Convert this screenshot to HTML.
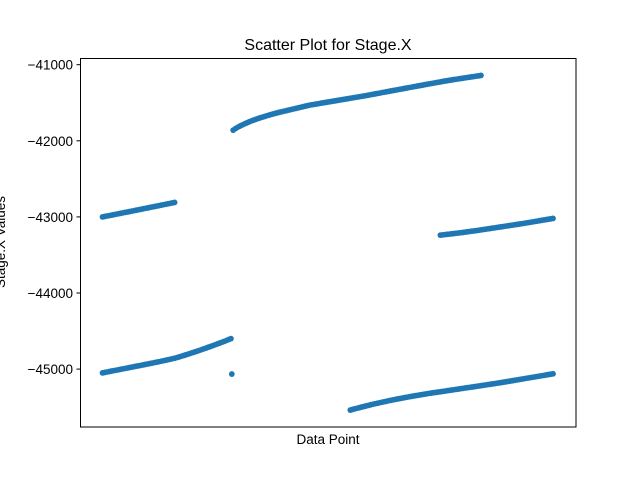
<!DOCTYPE html>
<html><head><meta charset="utf-8"><style>
html,body{margin:0;padding:0;background:#fff;}
svg{display:block;font-family:"Liberation Sans","DejaVu Sans",sans-serif;}
</style></head><body>
<svg id="chart" width="640" height="480" xmlns="http://www.w3.org/2000/svg">
<rect width="640" height="480" fill="#fff"/>
<text x="328" y="50" font-size="16" text-anchor="middle">Scatter Plot for Stage.X</text>
<g id="marks"></g>
<rect x="80.5" y="58.5" width="495.5" height="368.5" fill="none" stroke="#000" stroke-width="1"/>
<g id="yticks"></g>
<text x="328" y="444" font-size="13.5" text-anchor="middle">Data Point</text>
<text transform="translate(5,242) rotate(-90)" font-size="13.5" text-anchor="middle">Stage.X Values</text>
</svg>
<script>
const yTicks = [-41000, -42000, -43000, -44000, -45000];
const yTickLabels = ["\u221241000", "\u221242000", "\u221243000", "\u221244000", "\u221245000"];
const seg1Start = 0;
const seg1Values = [-43000,-42994,-42988,-42983,-42977,-42971,-42965,-42959,-42953,-42947,-42941,-42936,-42930,-42924,-42918,-42912,-42906,-42900,-42894,-42888,-42882,-42876,-42870,-42864,-42858,-42852,-42846,-42840,-42834,-42828,-42822,-42816,-42810];
const seg2Start = 0;
const seg2Values = [-45050,-45044,-45038,-45032,-45026,-45020,-45015,-45009,-45003,-44997,-44992,-44986,-44980,-44974,-44968,-44962,-44957,-44951,-44945,-44939,-44933,-44927,-44921,-44915,-44909,-44903,-44897,-44890,-44884,-44877,-44871,-44864,-44857,-44849,-44840,-44831,-44822,-44812,-44803,-44793,-44784,-44774,-44764,-44754,-44744,-44733,-44723,-44712,-44702,-44691,-44680,-44669,-44658,-44647,-44636,-44624,-44612,-44600];
const seg3Start = 290;
const seg3Values = [-41860,-41840,-41822,-41806,-41792,-41778,-41765,-41752,-41740,-41729,-41718,-41708,-41698,-41689,-41680,-41671,-41662,-41653,-41645,-41637,-41629,-41622,-41615,-41608,-41601,-41594,-41587,-41580,-41573,-41566,-41559,-41552,-41545,-41538,-41531,-41526,-41521,-41516,-41511,-41506,-41501,-41496,-41491,-41486,-41481,-41476,-41471,-41466,-41461,-41456,-41451,-41446,-41441,-41436,-41431,-41426,-41421,-41416,-41411,-41406,-41400,-41395,-41389,-41384,-41378,-41373,-41367,-41362,-41356,-41351,-41345,-41340,-41334,-41329,-41323,-41318,-41312,-41307,-41301,-41296,-41290,-41285,-41279,-41274,-41269,-41263,-41258,-41252,-41247,-41242,-41236,-41231,-41226,-41220,-41215,-41210,-41205,-41200,-41195,-41191,-41186,-41182,-41177,-41173,-41168,-41164,-41159,-41155,-41150,-41146,-41141];
const seg4Start = 750;
const seg4Values = [-43240,-43236,-43233,-43229,-43226,-43222,-43219,-43215,-43212,-43208,-43204,-43200,-43196,-43192,-43188,-43184,-43180,-43175,-43171,-43166,-43162,-43157,-43153,-43148,-43144,-43139,-43135,-43130,-43126,-43121,-43117,-43112,-43108,-43103,-43099,-43094,-43090,-43085,-43080,-43075,-43070,-43065,-43060,-43055,-43050,-43045,-43040,-43035,-43030,-43025,-43020];
const seg5Start = 550;
const seg5Values = [-45538,-45530,-45522,-45514,-45507,-45499,-45492,-45484,-45477,-45469,-45462,-45455,-45449,-45442,-45436,-45429,-45423,-45416,-45410,-45404,-45398,-45392,-45387,-45381,-45376,-45370,-45365,-45359,-45354,-45349,-45344,-45339,-45334,-45329,-45324,-45319,-45315,-45310,-45306,-45302,-45298,-45293,-45289,-45284,-45280,-45275,-45271,-45266,-45262,-45257,-45253,-45248,-45244,-45240,-45236,-45231,-45227,-45222,-45218,-45213,-45209,-45204,-45200,-45195,-45191,-45186,-45182,-45177,-45172,-45167,-45162,-45157,-45152,-45147,-45142,-45137,-45132,-45127,-45122,-45117,-45112,-45107,-45102,-45097,-45092,-45087,-45082,-45077,-45072,-45067,-45062];
const outlierX = [287];
const outlierY = [-45065];
const step = 5;

const NS = "http://www.w3.org/2000/svg";
const xMin = -50, xMax = 1051, pxL = 80, pxR = 576;
const yTop = -41000, yTopPx = 64.7, pxPer = 0.0761;
function xs(i){ return pxL + (i - xMin) / (xMax - xMin) * (pxR - pxL); }
function ys(v){ return yTopPx + (yTop - v) * pxPer; }

const marks = document.getElementById('marks');
function dot(i, v){
  const c = document.createElementNS(NS, 'circle');
  c.setAttribute('cx', xs(i).toFixed(2));
  c.setAttribute('cy', ys(v).toFixed(2));
  c.setAttribute('r', 2.9);
  c.setAttribute('fill', '#1f77b4');
  
  
  marks.appendChild(c);
}
[[seg1Start, seg1Values],[seg2Start, seg2Values],[seg3Start, seg3Values],[seg4Start, seg4Values],[seg5Start, seg5Values]].forEach(function(s){
  s[1].forEach(function(v, k){ dot(s[0] + k * step, v); });
});
outlierX.forEach(function(x, k){ dot(x, outlierY[k]); });

const yg = document.getElementById('yticks');
yTicks.forEach(function(t, k){
  const y = ys(t);
  const l = document.createElementNS(NS, 'line');
  l.setAttribute('x1', 76.5); l.setAttribute('x2', 80.5);
  l.setAttribute('y1', y); l.setAttribute('y2', y);
  l.setAttribute('stroke', '#000');
  
  
  yg.appendChild(l);
  const tx = document.createElementNS(NS, 'text');
  tx.setAttribute('x', 73); tx.setAttribute('y', y + 5);
  tx.setAttribute('font-size', '13.5');
  tx.setAttribute('text-anchor', 'end');
  tx.textContent = yTickLabels[k];
  
  
  yg.appendChild(tx);
});
</script>
</body></html>
